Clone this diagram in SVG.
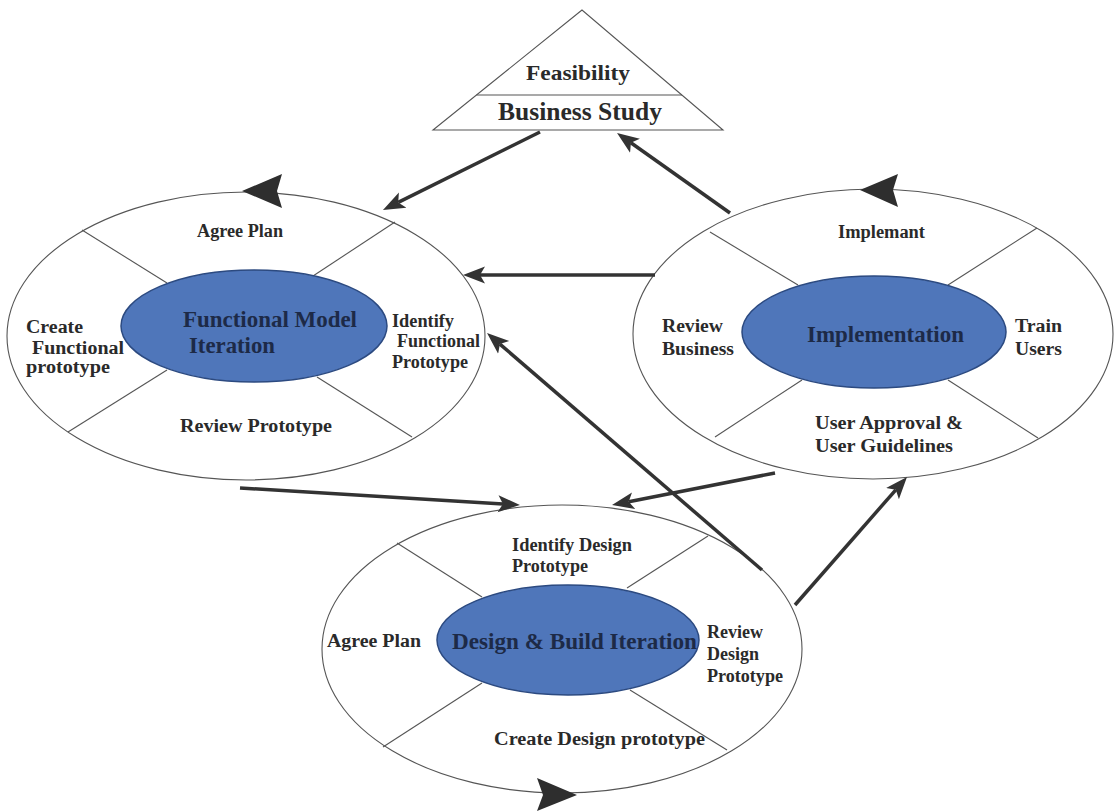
<svg xmlns="http://www.w3.org/2000/svg" width="1114" height="811" viewBox="0 0 1114 811">
<style>
.bg{fill:#ffffff}
.outer{fill:#ffffff;stroke:#555555;stroke-width:1.1}
.inner{fill:#4f76ba;stroke:#2c4a80;stroke-width:1.5}
.div{stroke:#555555;stroke-width:1.1;fill:none}
.lbl{font-family:"Liberation Serif","Times New Roman",serif;font-weight:bold;font-size:18px;fill:#2a2a2a}
.ctr{font-family:"Liberation Serif","Times New Roman",serif;font-weight:bold;font-size:23px;fill:#1d2a47}
.tri{fill:#ffffff;stroke:#555555;stroke-width:1.1}
.conn{stroke:#333333;stroke-width:3.5;fill:none;marker-end:url(#ah)}
.cyc{fill:#2e2e2e}
</style>
<defs>
<marker id="ah" markerUnits="userSpaceOnUse" markerWidth="22" markerHeight="20" viewBox="0 0 22 20" refX="5" refY="10" orient="auto">
<path d="M22,10 L0,1.5 L5,10 L0,18.5 Z" fill="#333333"/>
</marker>
</defs>
<rect class="bg" x="0" y="0" width="1114" height="811"/>

<g id="feasibility">
<polygon class="tri" points="582,10 433,130 723,130"/>
<line class="div" x1="476.5" y1="95" x2="682" y2="95"/>
<text class="lbl" x="526" y="80" style="font-size:22px" textLength="104" lengthAdjust="spacingAndGlyphs">Feasibility</text>
<text class="lbl" x="498" y="120" style="font-size:25px" textLength="164" lengthAdjust="spacingAndGlyphs">Business Study</text>
</g>

<g id="functional-model">
<ellipse class="outer" cx="246" cy="336" rx="239" ry="144"/>
<line class="div" x1="82" y1="230" x2="167" y2="283"/>
<line class="div" x1="313" y1="276" x2="395" y2="222"/>
<line class="div" x1="167" y1="370" x2="68" y2="432"/>
<line class="div" x1="317" y1="377" x2="412" y2="437"/>
<ellipse class="inner" cx="254" cy="326" rx="133" ry="56"/>
<path class="cyc" d="M242,191 L282,174 L277,191 L282,208 Z"/>
<text class="lbl" x="197" y="237" textLength="86" lengthAdjust="spacingAndGlyphs">Agree Plan</text>
<text class="lbl" x="26" y="333" textLength="57" lengthAdjust="spacingAndGlyphs">Create</text>
<text class="lbl" x="32" y="354" textLength="92" lengthAdjust="spacingAndGlyphs">Functional</text>
<text class="lbl" x="26" y="373" textLength="84" lengthAdjust="spacingAndGlyphs">prototype</text>
<text class="lbl" x="392" y="327" textLength="62" lengthAdjust="spacingAndGlyphs">Identify</text>
<text class="lbl" x="397" y="347" textLength="83" lengthAdjust="spacingAndGlyphs">Functional</text>
<text class="lbl" x="392" y="368" textLength="76" lengthAdjust="spacingAndGlyphs">Prototype</text>
<text class="lbl" x="180" y="432" textLength="152" lengthAdjust="spacingAndGlyphs">Review Prototype</text>
<text class="ctr" x="183" y="327" textLength="174" lengthAdjust="spacingAndGlyphs">Functional Model</text>
<text class="ctr" x="189" y="353" textLength="86" lengthAdjust="spacingAndGlyphs">Iteration</text>
</g>

<g id="implementation">
<ellipse class="outer" cx="873" cy="334" rx="240" ry="145"/>
<line class="div" x1="710" y1="232" x2="798" y2="285"/>
<line class="div" x1="948" y1="285" x2="1037" y2="228"/>
<line class="div" x1="802" y1="380" x2="715" y2="437"/>
<line class="div" x1="948" y1="380" x2="1038" y2="438"/>
<ellipse class="inner" cx="874" cy="332" rx="132" ry="56"/>
<path class="cyc" d="M860,190 L898,174 L893,190 L898,207 Z"/>
<text class="lbl" x="838" y="238" textLength="87" lengthAdjust="spacingAndGlyphs">Implemant</text>
<text class="lbl" x="662" y="332" textLength="61" lengthAdjust="spacingAndGlyphs">Review</text>
<text class="lbl" x="662" y="355" textLength="72" lengthAdjust="spacingAndGlyphs">Business</text>
<text class="lbl" x="1015" y="332" textLength="47" lengthAdjust="spacingAndGlyphs">Train</text>
<text class="lbl" x="1015" y="355" textLength="47" lengthAdjust="spacingAndGlyphs">Users</text>
<text class="lbl" x="815" y="429" textLength="148" lengthAdjust="spacingAndGlyphs">User Approval &amp;</text>
<text class="lbl" x="815" y="452" textLength="138" lengthAdjust="spacingAndGlyphs">User Guidelines</text>
<text class="ctr" x="807" y="342" textLength="157" lengthAdjust="spacingAndGlyphs">Implementation</text>
</g>

<g id="design-build">
<ellipse class="outer" cx="562" cy="649" rx="240" ry="144"/>
<line class="div" x1="397" y1="543" x2="482" y2="597"/>
<line class="div" x1="627" y1="588" x2="708" y2="536"/>
<line class="div" x1="482" y1="683" x2="383" y2="747"/>
<line class="div" x1="630" y1="690" x2="727" y2="750"/>
<ellipse class="inner" cx="568" cy="640" rx="131" ry="55"/>
<path class="cyc" d="M577,795 L537,778 L543,795 L537,811 Z"/>
<text class="lbl" x="512" y="551" textLength="120" lengthAdjust="spacingAndGlyphs">Identify Design</text>
<text class="lbl" x="512" y="572" textLength="76" lengthAdjust="spacingAndGlyphs">Prototype</text>
<text class="lbl" x="327" y="647" textLength="94" lengthAdjust="spacingAndGlyphs">Agree Plan</text>
<text class="lbl" x="707" y="638" textLength="56" lengthAdjust="spacingAndGlyphs">Review</text>
<text class="lbl" x="707" y="660" textLength="52" lengthAdjust="spacingAndGlyphs">Design</text>
<text class="lbl" x="707" y="682" textLength="76" lengthAdjust="spacingAndGlyphs">Prototype</text>
<text class="lbl" x="494" y="745" textLength="211" lengthAdjust="spacingAndGlyphs">Create Design prototype</text>
<text class="ctr" x="452" y="649" textLength="245" lengthAdjust="spacingAndGlyphs">Design &amp; Build Iteration</text>
</g>

<g id="connectors">
<line class="conn" x1="540" y1="132" x2="398.2" y2="202.4"/>
<line class="conn" x1="730" y1="213" x2="630.9" y2="142.8"/>
<line class="conn" x1="655" y1="275" x2="480" y2="275"/>
<line class="conn" x1="240" y1="488" x2="503" y2="504"/>
<line class="conn" x1="775" y1="473" x2="628.7" y2="501.7"/>
<line class="conn" x1="762" y1="570" x2="499.9" y2="344.1"/>
<line class="conn" x1="795" y1="605" x2="895.8" y2="489.8"/>
</g>
</svg>
